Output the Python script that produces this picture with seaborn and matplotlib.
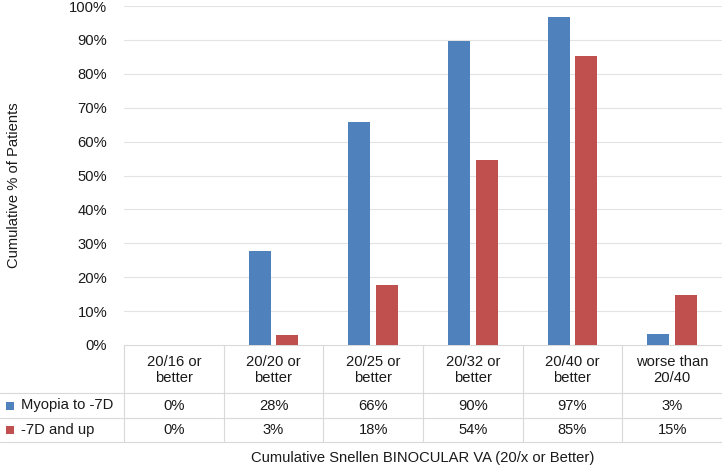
import pandas as pd
import numpy as np
import matplotlib.pyplot as plt
import matplotlib.ticker as mticker
from matplotlib.patches import Rectangle
import seaborn as sns

# ── Data ──────────────────────────────────────────────────────────────────────
CATEGORIES = ["20/16 or\nbetter", "20/20 or\nbetter", "20/25 or\nbetter",
              "20/32 or\nbetter", "20/40 or\nbetter", "worse than\n20/40"]
SERIES     = ["Myopia to -7D", "-7D and up"]
MYOPIA     = [0, 27.7, 65.7, 89.8, 96.8, 3.3]
HIGH_MYOP  = [0, 3.0, 17.7, 54.5, 85.3, 14.7]

PALETTE    = {"Myopia to -7D": "#4F81BD", "-7D and up": "#C0504D"}
GRID       = "#E3E3E3"
BORDER     = "#D9D9D9"
FS         = 10.6

sns.set_style("white")
plt.rcParams.update({
    "font.family": ["Liberation Sans", "DejaVu Sans"],
    "font.size":   FS,
    "text.color":  "#1a1a1a",
})

df = pd.DataFrame({
    "cat":   CATEGORIES * 2,
    "group": [SERIES[0]] * len(CATEGORIES) + [SERIES[1]] * len(CATEGORIES),
    "pct":   MYOPIA + HIGH_MYOP,
})

# ── Layout (pixels of a 722x468 canvas) ──────────────────────────────────────
W, H = 722, 468
X0, X1 = 124, 722          # plot / table columns
Y_TOP, Y_ZERO = 6, 345     # 100% and 0% lines
ROW_LINES = [393, 418, 442]

fig = plt.figure(figsize=(W / 100, H / 100), dpi=100)
ax = fig.add_axes([X0 / W, (H - Y_ZERO) / H, (X1 - X0) / W, (Y_ZERO - Y_TOP) / H])

sns.barplot(data=df, x="cat", y="pct", hue="group", palette=PALETTE,
            order=CATEGORIES, hue_order=SERIES, width=0.56, gap=0.21,
            saturation=1, linewidth=0, legend=False, ax=ax, zorder=3)

ax.set_ylim(0, 100)
ax.set_xlim(-0.5, len(CATEGORIES) - 0.5)
ax.set_yticks(np.arange(0, 101, 10))
ax.yaxis.set_major_formatter(mticker.FormatStrFormatter("%d%%"))
ax.tick_params(axis="y", length=0, pad=12, labelsize=FS, labelcolor="#1a1a1a")
ax.set_xticks([])
ax.set_xlabel("")
ax.set_ylabel("")
ax.grid(axis="y", color=GRID, linewidth=0.8, zorder=0)
for s in ax.spines.values():
    s.set_visible(False)

# ── Data table below the plot ────────────────────────────────────────────────
tab = fig.add_axes([0, 0, 1, 1], zorder=-1)
tab.set_xlim(0, W)
tab.set_ylim(H, 0)
tab.axis("off")

col_w = (X1 - X0) / len(CATEGORIES)
edges = [X0 + i * col_w for i in range(len(CATEGORIES) + 1)]

tab.plot([X0, X1], [Y_ZERO, Y_ZERO], color=BORDER, lw=0.8)
for y in ROW_LINES:
    tab.plot([0, W], [y, y], color=BORDER, lw=0.8)
for x in edges[:-1]:
    tab.plot([x, x], [Y_ZERO, ROW_LINES[-1]], color=BORDER, lw=0.8)

header_y = (Y_ZERO + ROW_LINES[0]) / 2 + 1
row_ys = [(ROW_LINES[0] + ROW_LINES[1]) / 2, (ROW_LINES[1] + ROW_LINES[2]) / 2]

for i, cat in enumerate(CATEGORIES):
    cx = (edges[i] + edges[i + 1]) / 2
    tab.text(cx, header_y, cat, ha="center", va="center", fontsize=FS, linespacing=1.2)
    for vals, ry in zip([MYOPIA, HIGH_MYOP], row_ys):
        tab.text(cx, ry, f"{round(vals[i])}%", ha="center", va="center", fontsize=FS)

for name, ry in zip(SERIES, row_ys):
    tab.add_patch(Rectangle((6, ry - 4), 8, 8, color=PALETTE[name], lw=0))
    tab.text(21, ry, name, ha="left", va="center", fontsize=FS)

fig.text(14 / W, 1 - 185 / H, "Cumulative % of Patients", rotation=90,
         ha="center", va="center", fontsize=FS)
fig.text((X0 + X1) / 2 / W, 1 - 458 / H, "Cumulative Snellen BINOCULAR VA (20/x or Better)",
         ha="center", va="center", fontsize=FS)

fig.savefig("out.png", dpi=100, facecolor="white")
plt.close()
